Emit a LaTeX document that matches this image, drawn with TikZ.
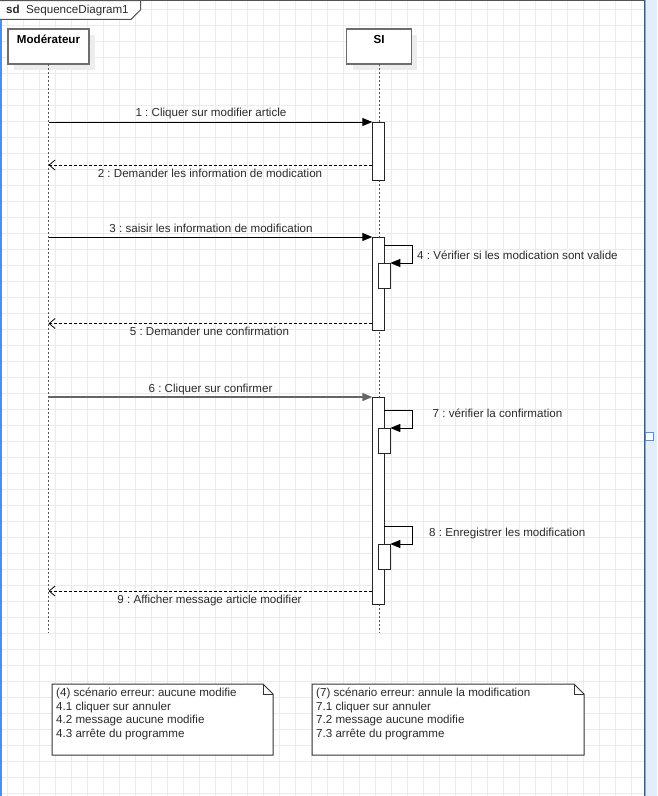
\documentclass[tikz,border=0pt]{standalone}
\usepackage{fontspec}
\setmainfont{Liberation Sans}
\usetikzlibrary{arrows.meta,calc,shadows}
\definecolor{gridgrey}{HTML}{EBEBEB}
\definecolor{framegrey}{HTML}{555555}
\definecolor{selblue}{HTML}{4A90F0}
\definecolor{selpale}{HTML}{E3EEFD}
\definecolor{inkgrey}{HTML}{2A2A2A}
\definecolor{shadowgrey}{HTML}{EDEDED}
\frenchspacing

\begin{document}
\begin{tikzpicture}[x=1pt,y=-1pt,
  txt/.style={font=\fontsize{11.6}{13.5}\selectfont, text=inkgrey, inner sep=0pt,
              text height=8.5pt, text depth=2.5pt},
  notetxt/.style={font=\fontsize{11.6}{13.6}\selectfont, text=inkgrey, inner sep=0pt,
                  align=left, anchor=north west},
  head/.style={draw=framegrey!85, line width=1.3pt, fill=white, minimum height=35pt,
               inner sep=0pt, outer sep=0pt,
               drop shadow={shadow xshift=6pt, shadow yshift=-6pt, fill=shadowgrey, opacity=1}},
  act/.style={draw=black!85, line width=1pt, fill=white, minimum width=12pt,
              inner sep=0pt, outer sep=0pt},
  lifeline/.style={draw=framegrey, line width=1pt, dash pattern=on 2pt off 2pt},
  call/.style={draw=black, line width=0.9pt, -{Triangle[length=10pt,width=8pt]}},
  reply/.style={draw=black, line width=0.9pt, dash pattern=on 3pt off 2pt,
                -{Straight Barb[length=6pt,width=10pt,line width=0.8pt]}},
  notebox/.style={draw=none, inner sep=0pt, outer sep=0pt, minimum height=71pt},
  noteline/.style={draw=black!80, line width=1pt, fill=white}
]
\useasboundingbox (0,0) rectangle (657,796);

% background grid
\fill[white] (0,0) rectangle (657,796);
\foreach \gx in {7,23,...,643} \draw[gridgrey, line width=0.8pt] (\gx,0) -- (\gx,796);
\foreach \gy in {9,25,...,793} \draw[gridgrey, line width=0.8pt] (0,\gy) -- (644,\gy);
\fill[selpale] (645,0) rectangle (657,796);

% frame of the interaction
\draw[framegrey, line width=1pt] (0,0.5) -- (644,0.5) -- (644,796);
\draw[selblue, line width=1.6pt] (0.8,0) -- (0.8,796);
\draw[selblue!75, line width=1.2pt] (645.6,0) -- (645.6,796);
\draw[selblue, fill=white, line width=1pt] (645.5,432.5) rectangle (653,440);
\draw[framegrey, line width=1pt, fill=white] (0,0.5) -- (140.5,0.5) -- (140.5,10) -- (131,19.3) -- (0,19.3);
\node[txt, anchor=west] (tab) at (6,10) {\bfseries sd\mdseries\ \ SequenceDiagram1};

% lifelines
\node[head, minimum width=81pt] (mod) at (48.5,46.5) {};
\node[txt, font=\fontsize{11.6}{13.5}\selectfont\bfseries, text=black] (modname) at (48.5,40) {Modérateur};
\node[head, minimum width=64.6pt] (si) at (379,46.5) {};
\node[txt, font=\fontsize{11.6}{13.5}\selectfont\bfseries, text=black] (siname) at (379,40) {SI};

\coordinate (modend) at (48.5,633);
\coordinate (siend) at (379,633);
\draw[lifeline] (mod.south) -- (modend);
\draw[lifeline] (si.south) -- (siend);

% activation bars
\node[act, minimum height=58pt] (bar1) at (378.3,151) {};
\node[act, minimum height=93pt] (bar2) at (378.3,283.5) {};
\node[act, minimum height=207pt] (bar3) at (378.3,500.5) {};
\node[act, minimum height=25pt] (n4) at (384.3,275.5) {};
\node[act, minimum height=25pt] (n7) at (384.3,440.5) {};
\node[act, minimum height=25pt] (n8) at (384.3,556.5) {};

% message levels
\coordinate (r2) at (0,165);
\coordinate (s4) at (0,245);
\coordinate (r5) at (0,323.5);
\coordinate (s7) at (0,410.5);
\coordinate (s8) at (0,526);
\coordinate (r9) at (0,591);

% messages
\draw[call] (mod.south |- bar1.north west) -- (bar1.north west);
\draw[reply] (bar1.west |- r2) -- (mod.south |- r2);
\draw[call] (mod.south |- bar2.north west) -- (bar2.north west);
\draw[call] (bar2.east |- s4) -- ++(28,0) |- (n4.north east);
\draw[reply] (bar2.west |- r5) -- (mod.south |- r5);
\draw[call, draw=black!60, line width=1.5pt] (mod.south |- bar3.north west) -- (bar3.north west);
\draw[call] (bar3.east |- s7) -- ++(28,0) |- (n7.north east);
\draw[call] (bar3.east |- s8) -- ++(28,0) |- (n8.north east);
\draw[reply] (bar3.west |- r9) -- (mod.south |- r9);

% message labels
\node[txt] (l1) at (211,113.5) {1 : Cliquer sur modifier article};
\node[txt] (l2) at (210,174) {2 : Demander les information de modication};
\node[txt] (l3) at (211,229) {3 : saisir les information de modification};
\node[txt, anchor=west] (l4) at (417,256.5) {4 : Vérifier si les modication sont valide};
\node[txt] (l5) at (209.5,332) {5 : Demander une confirmation};
\node[txt] (l6) at (210.5,389) {6 : Cliquer sur confirmer};
\node[txt, anchor=west] (l7) at (432.5,414.5) {7 : vérifier la confirmation};
\node[txt, anchor=west] (l8) at (429,533.5) {8 : Enregistrer les modification};
\node[txt] (l9) at (209.5,600) {9 : Afficher message article modifier};

% notes
\node[notebox, minimum width=221pt] (note1) at (162.5,719.5) {};
\draw[noteline] (note1.north west) -- ($(note1.north east)+(-10,0)$) -- ($(note1.north east)+(0,10)$)
  -- (note1.south east) -- (note1.south west) -- cycle;
\draw[noteline, fill=none] ($(note1.north east)+(-10,0)$) -- ($(note1.north east)+(-10,10)$) -- ($(note1.north east)+(0,10)$);
\node[notetxt] (note1text) at ($(note1.north west)+(4,4)$)
  {(4) scénario erreur: aucune modifie\\4.1 cliquer sur annuler\\4.2 message aucune modifie\\4.3 arrête du programme};

\node[notebox, minimum width=272pt] (note2) at (448,719.5) {};
\draw[noteline] (note2.north west) -- ($(note2.north east)+(-10,0)$) -- ($(note2.north east)+(0,10)$)
  -- (note2.south east) -- (note2.south west) -- cycle;
\draw[noteline, fill=none] ($(note2.north east)+(-10,0)$) -- ($(note2.north east)+(-10,10)$) -- ($(note2.north east)+(0,10)$);
\node[notetxt] (note2text) at ($(note2.north west)+(4,4)$)
  {(7) scénario erreur: annule la modification\\7.1 cliquer sur annuler\\7.2 message aucune modifie\\7.3 arrête du programme};

\end{tikzpicture}
\end{document}
